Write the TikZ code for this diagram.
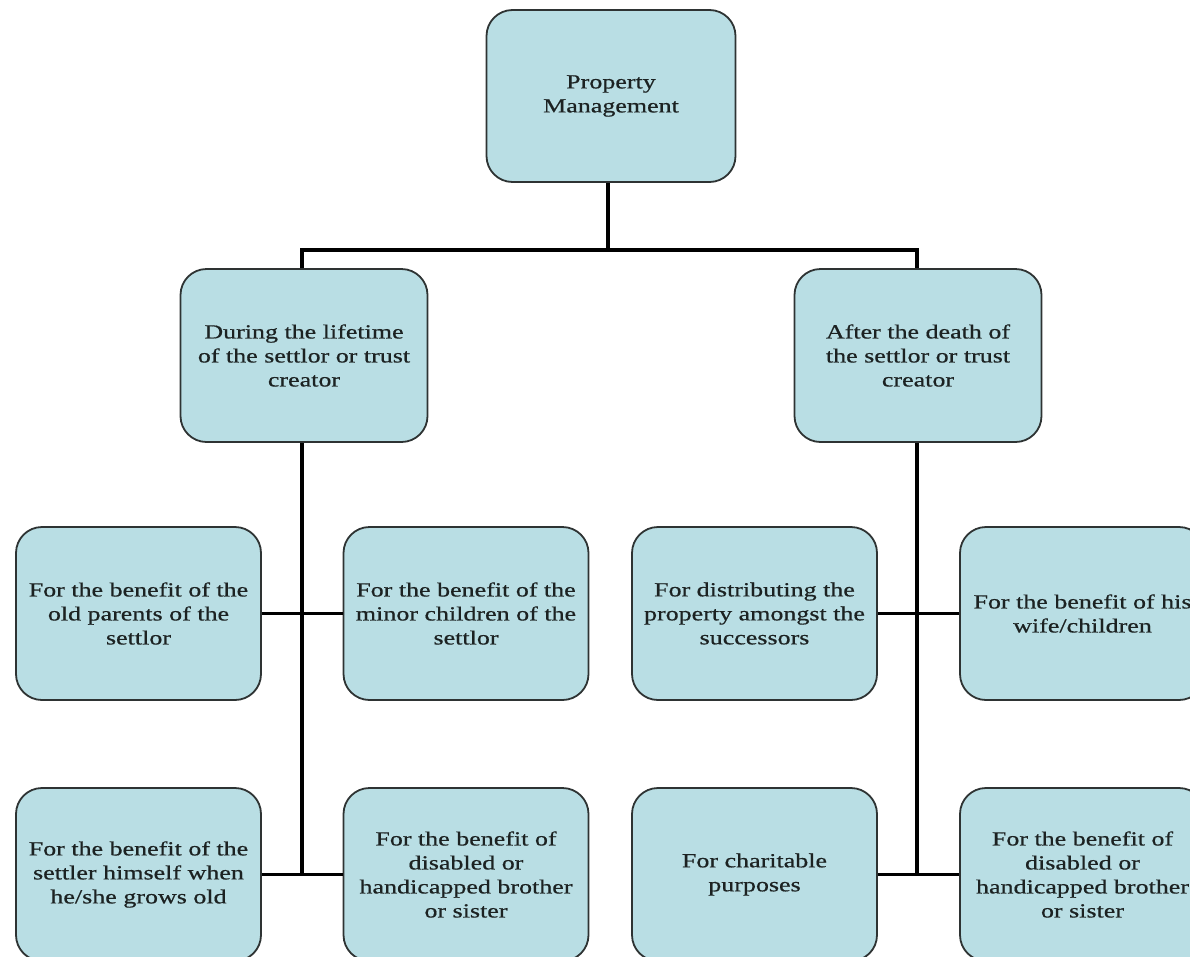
\documentclass[tikz,border=0pt]{standalone}
\usepackage{fontspec}
\setmainfont{Liberation Serif}[FakeStretch=1.3,FakeBold=0.6]
\begin{document}
\begin{tikzpicture}[x=1pt,y=-1pt,
  box/.style={draw=boxline, line width=1.8pt, fill=boxfill, rounded corners=26pt,
    minimum width=245pt, minimum height=173pt, inner sep=0pt, align=center,
    text=txt, font=\fontsize{20}{24}\selectfont},
  link/.style={draw=black, line width=3.4pt}]
\definecolor{boxfill}{HTML}{B9DEE4}
\definecolor{boxline}{HTML}{2E3333}
\definecolor{txt}{HTML}{1C2222}
\useasboundingbox (0,0) rectangle (1190,956);
\fill[white] (0,0) rectangle (1190,956);
\clip (0,0) rectangle (1190,956);

% root
\node[box, minimum width=249pt, minimum height=172pt] (root) at (611,96) {Property\\Management};

% two phases
\node[box, minimum width=247pt] (life)  at (304,355.5) {During the lifetime\\of the settlor or trust\\creator};
\node[box, minimum width=247pt] (death) at (918,355.5) {After the death of\\the settlor or trust\\creator};

% purposes during the lifetime
\node[box] (parents)  at (138.5,613.5) {For the benefit of the\\old parents of the\\settlor};
\node[box] (minors)   at (466,613.5)   {For the benefit of the\\minor children of the\\settlor};
\node[box] (himself)  at (138.5,874.5) {For the benefit of the\\settler himself when\\he/she grows old};
\node[box] (siblingA) at (466,874.5)   {For the benefit of\\disabled or\\handicapped brother\\or sister};

% purposes after the death
\node[box] (distrib)  at (754.5,613.5)  {For distributing the\\property amongst the\\successors};
\node[box] (wife)     at (1082.5,613.5) {For the benefit of his\\wife/children};
\node[box] (charity)  at (754.5,874.5)  {For charitable\\purposes};
\node[box] (siblingB) at (1082.5,874.5) {For the benefit of\\disabled or\\handicapped brother\\or sister};

% connectors
\coordinate (split) at (608,250);
\coordinate (lifeEnd) at (302,873);
\coordinate (deathEnd) at (917,873);
\path[link] (root.south -| split) -- (split);
\path[link] (life.north -| lifeEnd) |- (split) -| (death.north -| deathEnd);

\path[link] (life.south -| lifeEnd) -- (lifeEnd);
\path[link] (parents.east) -- (minors.west);
\path[link] (himself.east) -- (siblingA.west);

\path[link] (death.south -| deathEnd) -- (deathEnd);
\path[link] (distrib.east) -- (wife.west);
\path[link] (charity.east) -- (siblingB.west);
\end{tikzpicture}
\end{document}
